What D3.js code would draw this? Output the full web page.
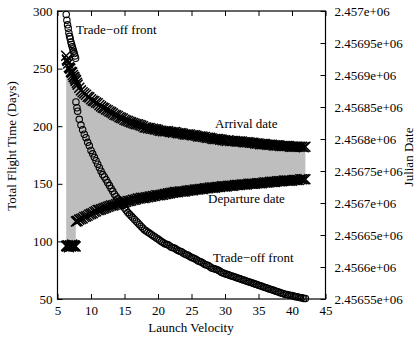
<!DOCTYPE html>
<html>
<head>
<meta charset="utf-8">
<script src="https://cdn.jsdelivr.net/npm/d3@7"></script>
<style>
  html, body { margin: 0; padding: 0; background: #fff; }
  svg { display: block; }
  text { font-family: "Liberation Serif", "Times New Roman", serif; fill: #000; }
</style>
</head>
<body>
<svg id="chart" width="417" height="339"></svg>
<script>
// ---- data ----
const launchVelocity = [
  6.3, 6.4, 6.5, 6.6, 6.7, 6.8, 6.9, 7.0, 7.1, 7.2, 7.3, 7.4, 7.5, 7.6, 7.7,
  7.75, 7.9, 8.0, 8.25, 8.5, 8.75, 9.0, 9.25, 9.5, 9.75, 10, 10.25, 10.5, 10.75, 11, 11.25, 11.5, 11.75,
  12, 12.25, 12.5, 12.75, 13, 13.25, 13.5, 13.75, 14, 14.25, 14.5, 14.75,
  15, 15.25, 15.5, 15.75, 16, 16.25, 16.5, 16.75, 17, 17.25, 17.5, 17.75,
  18, 18.25, 18.5, 18.75, 19, 19.25, 19.5, 19.75, 20, 20.25, 20.5, 20.75,
  21, 21.25, 21.5, 21.75, 22, 22.25, 22.5, 22.75, 23, 23.25, 23.5, 23.75,
  24, 24.25, 24.5, 24.75, 25, 25.25, 25.5, 25.75, 26, 26.25, 26.5, 26.75,
  27, 27.25, 27.5, 27.75, 28, 28.25, 28.5, 28.75, 29, 29.25, 29.5, 29.75,
  30, 30.25, 30.5, 30.75, 31, 31.25, 31.5, 31.75, 32, 32.25, 32.5, 32.75,
  33, 33.25, 33.5, 33.75, 34, 34.25, 34.5, 34.75, 35, 35.25, 35.5, 35.75,
  36, 36.25, 36.5, 36.75, 37, 37.25, 37.5, 37.75, 38, 38.25, 38.5, 38.75,
  39, 39.25, 39.5, 39.75, 40, 40.25, 40.5, 40.75, 41, 41.25, 41.5, 41.75,
  42
];
const flightTime = [
  297, 292, 288, 285, 281, 278, 276, 273, 271, 269, 267, 265, 263, 261, 259,
  221, 216, 213, 206, 201, 197, 193, 190, 186, 183, 179, 176, 173, 170, 167, 164, 161, 158,
  156, 153.5, 151, 148.5, 146, 143.5, 141, 139, 137, 135, 133, 131,
  129, 127, 125, 123.5, 122, 120.5, 119, 117.5, 116, 114.5, 113, 111.5,
  110, 109, 108, 107, 106, 105, 104, 103, 102, 101, 100, 99,
  98, 97.5, 97, 96, 95, 94.5, 94, 93, 92, 91.5, 91, 90,
  89, 88.5, 88, 87, 86, 85.5, 85, 84, 83, 82.5, 82, 81,
  80, 79.5, 79, 78, 77, 76.5, 76, 75.5, 75, 74, 73, 72.5,
  72, 71.5, 71, 70.5, 70, 69.5, 69, 68.5, 68, 67.5, 67, 66.5,
  66, 65.5, 65, 64.5, 64, 63.5, 63, 62.5, 62, 61.5, 61, 60.5,
  60, 59.5, 59, 58.5, 58, 57.5, 57, 56.5, 56, 55.5, 55, 54.5,
  54, 54, 53.5, 53, 53, 52.5, 52, 52, 51.5, 51, 51, 50.5,
  50.5
];
const departureJD = [
  2456633, 2456632, 2456634, 2456633, 2456631, 2456633, 2456634, 2456632, 2456633, 2456635, 2456633, 2456632, 2456634, 2456633, 2456632,
  2456671, 2456672, 2456672, 2456674, 2456675, 2456676, 2456678, 2456679, 2456680, 2456682, 2456683, 2456684, 2456686, 2456687, 2456689, 2456689, 2456690, 2456691,
  2456692, 2456693, 2456694, 2456695, 2456696, 2456696, 2456697, 2456698, 2456699, 2456699, 2456700, 2456701,
  2456701, 2456702, 2456703, 2456703, 2456704, 2456705, 2456705, 2456706, 2456707, 2456707, 2456708, 2456708,
  2456708, 2456709, 2456709, 2456710, 2456710, 2456711, 2456711, 2456712, 2456712, 2456712, 2456713, 2456713,
  2456714, 2456714, 2456715, 2456715, 2456716, 2456716, 2456717, 2456717, 2456717, 2456718, 2456718, 2456718,
  2456718, 2456719, 2456719, 2456720, 2456720, 2456720, 2456721, 2456721, 2456721, 2456722, 2456722, 2456722,
  2456723, 2456723, 2456723, 2456724, 2456724, 2456724, 2456724, 2456725, 2456725, 2456725, 2456726, 2456726,
  2456726, 2456726, 2456727, 2456727, 2456727, 2456727, 2456728, 2456728, 2456728, 2456728, 2456729, 2456729,
  2456729, 2456729, 2456730, 2456730, 2456730, 2456730, 2456730, 2456731, 2456731, 2456731, 2456731, 2456732,
  2456732, 2456732, 2456732, 2456733, 2456733, 2456733, 2456733, 2456734, 2456734, 2456734, 2456734, 2456735,
  2456735, 2456735, 2456735, 2456735, 2456735, 2456736, 2456736, 2456736, 2456736, 2456737, 2456737, 2456737,
  2456737
];
const arrivalJD = [
  2456930, 2456924, 2456922, 2456918, 2456912, 2456911, 2456910, 2456905, 2456904, 2456904, 2456900, 2456897, 2456897, 2456894, 2456891,
  2456892, 2456888, 2456885, 2456880, 2456876, 2456873, 2456871, 2456869, 2456866, 2456865, 2456862, 2456860, 2456859, 2456857, 2456856, 2456853, 2456851, 2456849,
  2456848, 2456846, 2456845, 2456843, 2456842, 2456840, 2456838, 2456837, 2456836, 2456834, 2456833, 2456832,
  2456830, 2456829, 2456828, 2456827, 2456826, 2456825, 2456824, 2456823, 2456823, 2456822, 2456821, 2456820,
  2456818, 2456818, 2456817, 2456817, 2456816, 2456816, 2456815, 2456815, 2456814, 2456813, 2456813, 2456812,
  2456812, 2456812, 2456812, 2456811, 2456811, 2456810, 2456811, 2456810, 2456809, 2456809, 2456809, 2456808,
  2456807, 2456807, 2456807, 2456807, 2456806, 2456806, 2456806, 2456805, 2456804, 2456804, 2456804, 2456803,
  2456803, 2456802, 2456802, 2456802, 2456801, 2456800, 2456800, 2456800, 2456800, 2456799, 2456799, 2456798,
  2456798, 2456797, 2456798, 2456797, 2456797, 2456797, 2456797, 2456796, 2456796, 2456796, 2456796, 2456795,
  2456795, 2456795, 2456795, 2456794, 2456794, 2456794, 2456793, 2456793, 2456793, 2456792, 2456792, 2456792,
  2456792, 2456791, 2456791, 2456791, 2456791, 2456790, 2456790, 2456790, 2456790, 2456789, 2456789, 2456789,
  2456789, 2456789, 2456789, 2456788, 2456788, 2456788, 2456788, 2456788, 2456788, 2456788, 2456788, 2456787,
  2456788
];
const xTicks = [5, 10, 15, 20, 25, 30, 35, 40, 45];
const yTicks = [50, 100, 150, 200, 250, 300];
const y2Ticks = [2456550, 2456600, 2456650, 2456700, 2456750, 2456800, 2456850, 2456900, 2456950, 2457000];
const y2TickLabels = ["2.45655e+06", "2.4566e+06", "2.45665e+06", "2.4567e+06", "2.45675e+06",
                      "2.4568e+06", "2.45685e+06", "2.4569e+06", "2.45695e+06", "2.457e+06"];

// ---- layout ----
const svg = d3.select("#chart");
const plotLeft = 57.5, plotRight = 325.5, plotTop = 11, plotBottom = 299;
const fontSize = 13;

const x = d3.scaleLinear().domain([5, 45]).range([plotLeft, plotRight]);
const y = d3.scaleLinear().domain([50, 300]).range([plotBottom, plotTop]);
const y2 = d3.scaleLinear().domain([2456550, 2457000]).range([plotBottom, plotTop]);

const n = Math.min(launchVelocity.length, flightTime.length, departureJD.length, arrivalJD.length);
const rows = launchVelocity.slice(0, n).map((v, i) => ({
  v, t: flightTime[i], dep: departureJD[i], arr: arrivalJD[i]
}));

// filled band between departure and arrival date
const area = d3.area()
  .x(d => x(d.v))
  .y0(d => y2(d.dep))
  .y1(d => y2(d.arr));
svg.append("path")
  .datum(rows)
  .attr("d", area)
  .attr("fill", "#bebebe")
  .attr("stroke", "none");

// trade-off front (circles)
svg.append("g")
  .selectAll("circle")
  .data(rows)
  .join("circle")
  .attr("cx", d => x(d.v))
  .attr("cy", d => y(d.t))
  .attr("r", 3.2)
  .attr("fill", "none")
  .attr("stroke", "#000")
  .attr("stroke-width", 1.1);

// cross markers for dates
const crossPath = "M-5,-5L5,5M-5,5L5,-5";
function crosses(key) {
  svg.append("g")
    .selectAll("path")
    .data(rows)
    .join("path")
    .attr("transform", d => `translate(${x(d.v)},${y2(d[key])})`)
    .attr("d", crossPath)
    .attr("stroke", "#000")
    .attr("stroke-width", 1.5)
    .attr("fill", "none");
}
crosses("arr");
crosses("dep");

// ---- axes ----
function styleAxis(g) {
  g.select(".domain").remove();
  g.selectAll(".tick line").attr("stroke", "#000").attr("stroke-width", 1);
  g.selectAll(".tick text").attr("font-size", fontSize)
    .attr("font-family", '"Liberation Serif", "Times New Roman", serif').attr("fill", "#000");
}

svg.append("g")
  .attr("transform", `translate(0,${plotBottom})`)
  .call(d3.axisBottom(x).tickValues(xTicks).tickSizeInner(-5).tickSizeOuter(0).tickPadding(7))
  .call(styleAxis);

svg.append("g")
  .attr("transform", `translate(0,${plotTop})`)
  .call(d3.axisTop(x).tickValues(xTicks).tickSizeInner(-5).tickSizeOuter(0).tickFormat(""))
  .call(styleAxis);

svg.append("g")
  .attr("transform", `translate(${plotLeft},0)`)
  .call(d3.axisLeft(y).tickValues(yTicks).tickSizeInner(-5).tickSizeOuter(0).tickPadding(5))
  .call(styleAxis);

svg.append("g")
  .attr("transform", `translate(${plotRight},0)`)
  .call(d3.axisRight(y2).tickValues(y2Ticks).tickSizeInner(-5).tickSizeOuter(0).tickPadding(9)
    .tickFormat((d, i) => y2TickLabels[i]))
  .call(styleAxis);

// frame
svg.append("rect")
  .attr("x", plotLeft).attr("y", plotTop)
  .attr("width", plotRight - plotLeft).attr("height", plotBottom - plotTop)
  .attr("fill", "none").attr("stroke", "#000").attr("stroke-width", 1.2);

// ---- labels ----
function label(txt, px, py, anchor, rot) {
  const t = svg.append("text")
    .attr("font-size", fontSize)
    .attr("text-anchor", anchor || "start")
    .text(txt);
  if (rot) t.attr("transform", `translate(${px},${py}) rotate(${rot})`);
  else t.attr("x", px).attr("y", py);
  return t;
}
label("Launch Velocity", 191, 332, "middle");
label("Total Flight Time (Days)", 16, 146, "middle", -90);
label("Julian Date", 413, 157, "middle", -90);
label("Trade\u2212off front", 76, 34, "start");
label("Arrival date", 215, 128, "start");
label("Departure date", 208, 203, "start");
label("Trade\u2212off front", 213, 262, "start");
</script>
</body>
</html>
